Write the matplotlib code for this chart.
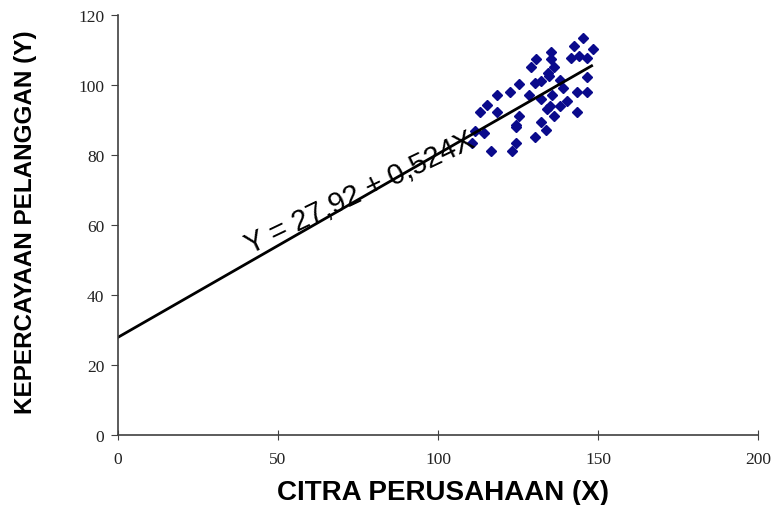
import matplotlib.pyplot as plt
import numpy as np

# scatter data
citra = [145.4, 142.5, 148.3, 135.2, 141.6, 144.2, 146.5, 130.5, 135.4, 129.1,
         136.3, 134.4, 134.6, 146.5, 132.1, 130.4, 138.2, 125.2, 122.5, 139.0,
         118.5, 128.3, 135.5, 143.3, 146.5, 132.3, 115.2, 140.2, 138.1, 135.1,
         134.2, 113.1, 118.5, 143.5, 125.4, 136.3, 111.7, 124.4, 132.2, 133.7,
         114.4, 130.3, 124.4, 110.6, 116.5, 123.2, 124.4]
kepercayaan = [113.3, 111.2, 110.2, 109.5, 107.6, 108.4, 107.6, 107.5, 107.5, 105.1,
               105.2, 103.4, 102.5, 102.4, 101.2, 100.5, 101.4, 100.3, 98.1, 99.1,
               97.2, 97.2, 97.1, 98.1, 98.1, 96.0, 94.3, 95.3, 94.0, 94.0,
               93.1, 92.2, 92.2, 92.2, 91.1, 91.1, 86.9, 88.1, 89.3, 87.1,
               86.2, 85.1, 83.3, 83.3, 81.2, 81.1, 88.5]

a, b = 27.92, 0.524
x_ticks = [0, 50, 100, 150, 200]
y_ticks = [0, 20, 40, 60, 80, 100, 120]

fig = plt.figure(figsize=(7.78, 5.06), dpi=100)
ax = fig.add_axes([0.1517, 0.1383, 0.8226, 0.8301])

ax.plot(citra, kepercayaan, 'D', color='#0a0a8c', ms=5.3, mec='#0a0a8c')

xl = np.array([0, 148])
ax.plot(xl, a + b * xl, color='black', lw=2)

ax.text(75.5, 69.5, 'Y = 27,92 + 0,524X', fontsize=21, family='Liberation Sans',
        rotation=25.5, ha='center', va='center', rotation_mode='anchor')

ax.set_xlim(0, 200)
ax.set_ylim(0, 120)
ax.set_xticks(x_ticks)
ax.set_yticks(y_ticks)
for s in ['top', 'right']:
    ax.spines[s].set_visible(False)
for s in ['left', 'bottom']:
    ax.spines[s].set_color('#404040')
    ax.spines[s].set_linewidth(1.2)
ax.tick_params(axis='y', direction='out', length=5, color='#404040', labelsize=12.5, pad=5)
ax.tick_params(axis='x', direction='inout', length=7, color='#404040', labelsize=12.5, pad=8)
for lab in ax.get_xticklabels() + ax.get_yticklabels():
    lab.set_family('Liberation Serif')
    lab.set_color('#222222')

ax.set_xlabel('CITRA PERUSAHAAN (X)', fontsize=20, fontweight='bold',
              family='Liberation Sans')
ax.set_ylabel('KEPERCAYAAN PELANGGAN (Y)', fontsize=17.5, fontweight='bold',
              family='Liberation Sans')
ax.xaxis.label.set_va('center')
ax.yaxis.label.set_va('center')
ax.xaxis.set_label_coords(0.508, -0.136)
ax.yaxis.set_label_coords(-0.144, 0.51)

plt.savefig('out.png', dpi=100)
